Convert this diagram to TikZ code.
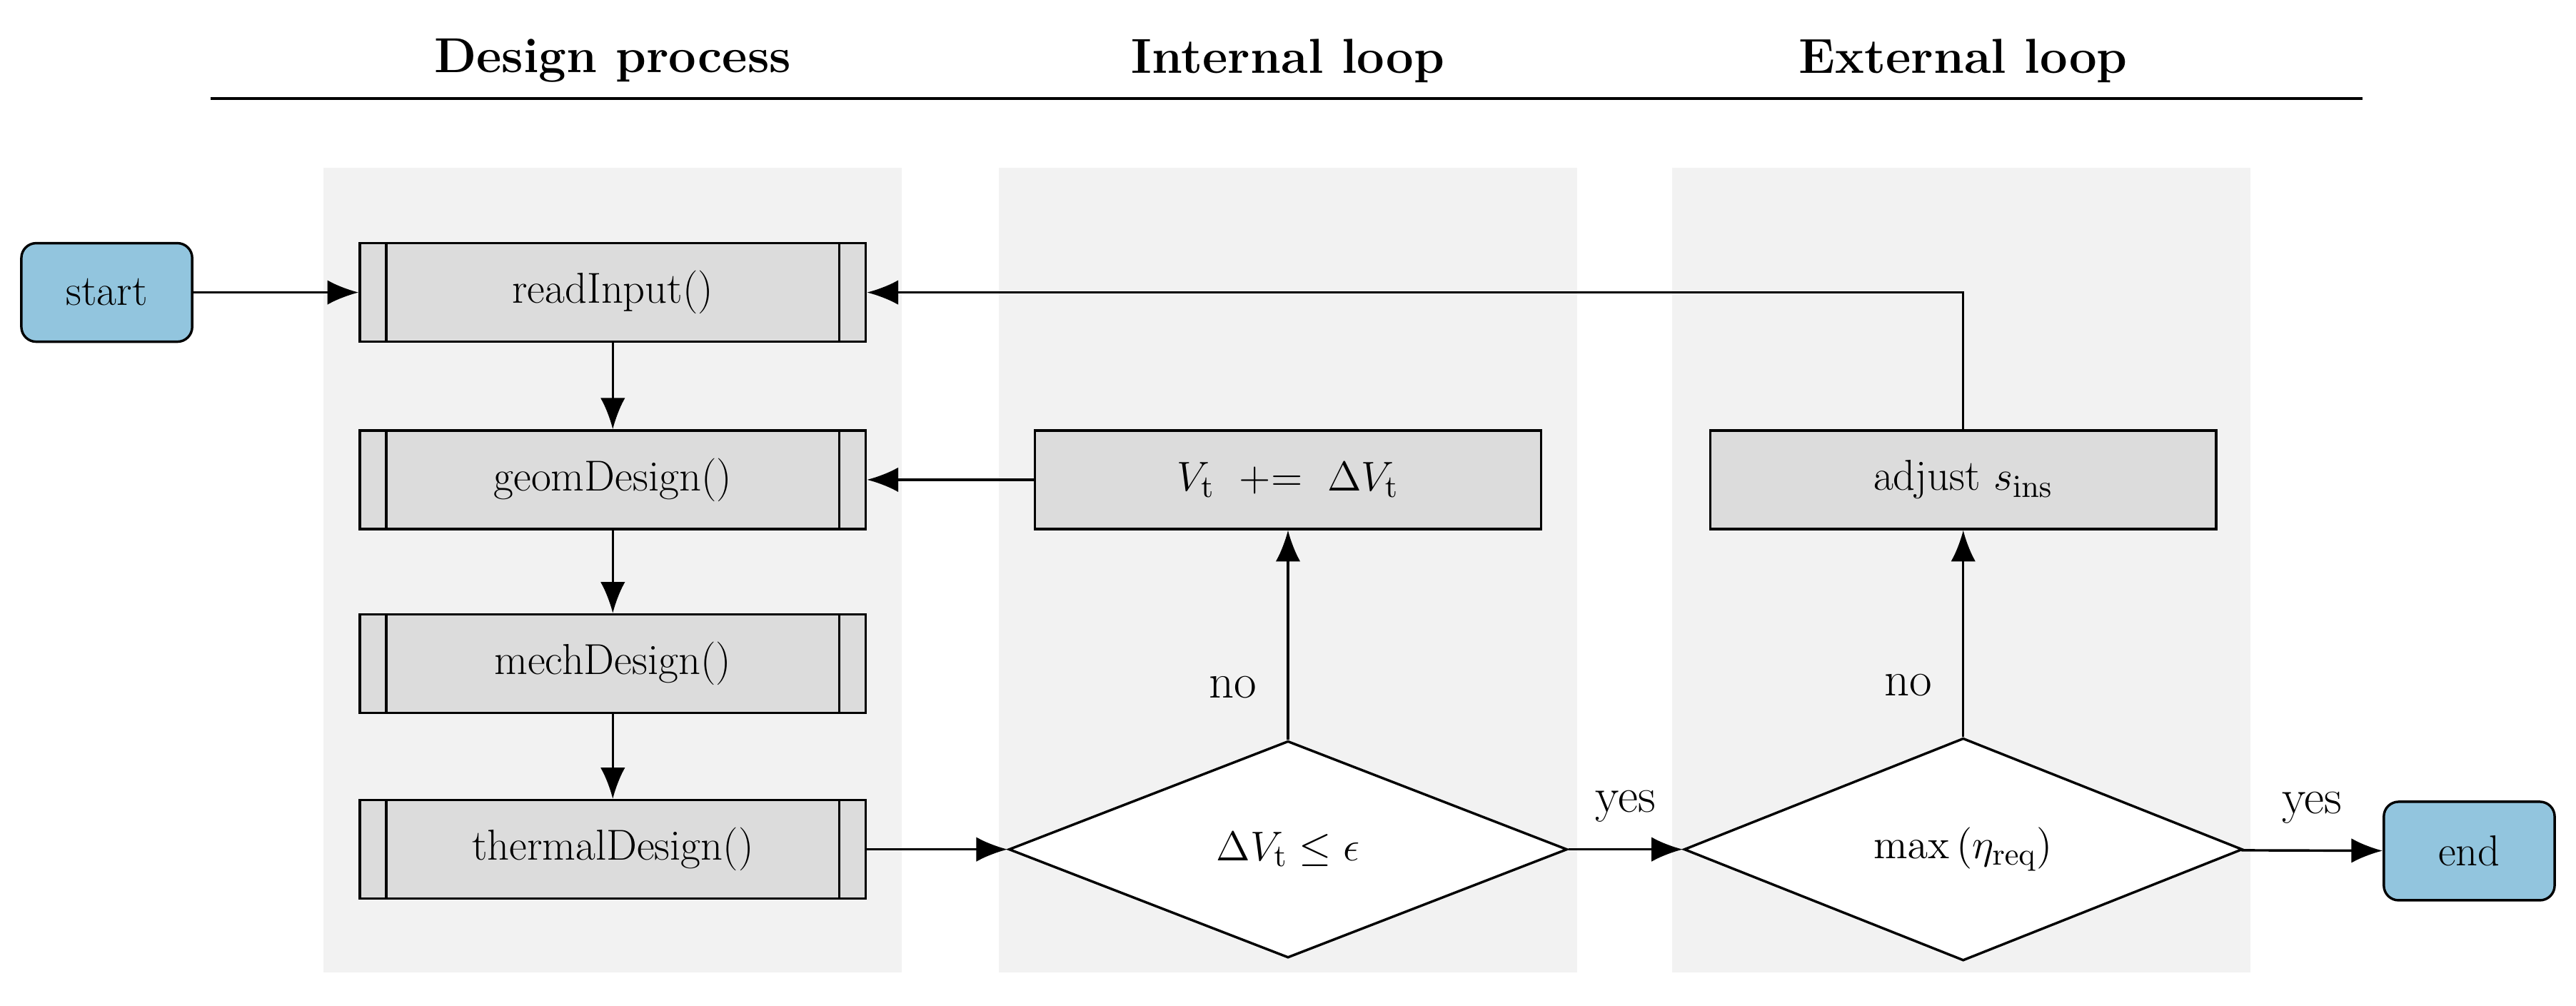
\documentclass[tikz,border=0pt]{standalone}
\usetikzlibrary{shapes.geometric,arrows.meta}
\definecolor{bgc}{HTML}{F2F2F2}
\definecolor{boxc}{HTML}{DCDCDC}
\definecolor{term}{HTML}{92C5DE}
\begin{document}
\begin{tikzpicture}[x=0.02cm,y=-0.02cm,
  every node/.style={font=\fontsize{15}{18}\selectfont},
  line width=0.85pt,
  arr/.style={-{Latex[length=0.38cm,width=0.3cm]}},
  proc/.style={draw,fill=boxc,minimum width=6.16cm,minimum height=1.2cm,inner sep=0pt},
  sub/.style={proc,path picture={
    \draw ([xshift=0.32cm]path picture bounding box.north west) -- ([xshift=0.32cm]path picture bounding box.south west);
    \draw ([xshift=-0.32cm]path picture bounding box.north east) -- ([xshift=-0.32cm]path picture bounding box.south east);}},
  term/.style={draw,fill=term,rounded corners=0.18cm,minimum width=2.08cm,minimum height=1.2cm,inner sep=0pt},
  dec/.style={draw,fill=white,diamond,minimum width=6.8cm,minimum height=2.64cm,inner sep=0pt},
  hdr/.style={font=\fontsize{17}{20}\selectfont\bfseries},
  lab/.style={font=\fontsize{17}{20}\selectfont}]
\useasboundingbox (0,0) rectangle (1568,612);
\fill[bgc] (197,102) rectangle (549,592);
\fill[bgc] (608,102) rectangle (960,592);
\fill[bgc] (1018,102) rectangle (1370,592);
\node[hdr] (h1) at (373,37) {Design process};
\node[hdr] (h2) at (784,37) {Internal loop};
\node[hdr] (h3) at (1195,37) {External loop};
\draw (128,60) -- (1438,60);
\node[term] (start) at (65,178) {start};
\node[term] (end) at (1503,518) {end};
\node[sub] (read) at (373,178) {readInput()};
\node[sub] (geom) at (373,292) {geomDesign()};
\node[sub] (mech) at (373,404) {mechDesign()};
\node[sub] (therm) at (373,517) {thermalDesign()};
\node[proc] (vt) at (784,292) {$V_\mathrm{t}\ \mathrel{+}=\ \Delta V_\mathrm{t}$};
\node[proc] (adj) at (1195,292) {adjust $s_\mathrm{ins}$};
\node[dec] (d1) at (784,517) {$\Delta V_\mathrm{t} \leq \epsilon$};
\node[dec] (d2) at (1195,517) {$\max\left(\eta_\mathrm{req}\right)$};
\draw[arr] (start) -- (read);
\draw[arr] (read) -- (geom);
\draw[arr] (geom) -- (mech);
\draw[arr] (mech) -- (therm);
\draw[arr] (therm) -- (d1);
\draw[arr] (d1) -- node[lab,pos=0.25,left=0.25cm] {no} (vt);
\draw[arr] (vt) -- (geom);
\draw[arr] (d1) -- node[lab,above=0.2cm] {yes} (d2);
\draw[arr] (d2) -- node[lab,pos=0.25,left=0.25cm] {no} (adj);
\draw[arr] (adj.north) |- (read.east);
\draw[arr] (d2) -- node[lab,above=0.2cm] {yes} (end);
\end{tikzpicture}
\end{document}
